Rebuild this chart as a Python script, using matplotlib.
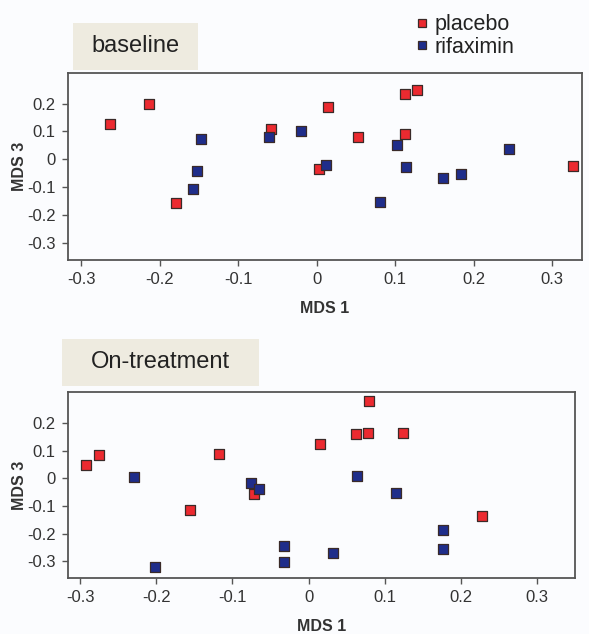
import matplotlib
matplotlib.use("Agg")
import matplotlib.pyplot as plt
from matplotlib.patches import Rectangle

plt.rcParams['font.family'] = ['Liberation Sans', 'DejaVu Sans']

# baseline (MDS 1, MDS 3)
base_placebo_x = [-0.263, -0.214, -0.179, -0.058, 0.014, 0.113, 0.128, 0.052, 0.113, 0.003, 0.326]
base_placebo_y = [0.126, 0.199, -0.156, 0.110, 0.189, 0.235, 0.250, 0.080, 0.091, -0.035, -0.023]
base_rifax_x = [-0.147, -0.153, -0.158, -0.061, -0.020, 0.012, 0.102, 0.114, 0.161, 0.184, 0.245, 0.081]
base_rifax_y = [0.072, -0.041, -0.108, 0.080, 0.101, -0.022, 0.050, -0.028, -0.067, -0.052, 0.036, -0.152]

# on-treatment
trt_placebo_x = [-0.293, -0.275, -0.118, -0.156, -0.072, 0.079, 0.015, 0.062, 0.078, 0.124, 0.228]
trt_placebo_y = [0.049, 0.083, 0.087, -0.113, -0.055, 0.280, 0.126, 0.160, 0.163, 0.166, -0.138]
trt_rifax_x = [-0.229, -0.076, -0.065, -0.202, -0.032, -0.032, 0.064, 0.115, 0.177, 0.177, 0.032]
trt_rifax_y = [0.006, -0.018, -0.037, -0.322, -0.244, -0.303, 0.007, -0.052, -0.186, -0.257, -0.270]

xticks = [-0.3, -0.2, -0.1, 0, 0.1, 0.2, 0.3]
yticks = [-0.3, -0.2, -0.1, 0, 0.1, 0.2]
tick_fmt = lambda v: '0' if v == 0 else '{:g}'.format(v)

RED = '#ec2a30'
BLUE = '#1f2d8a'
EDGE = '#3a2a28'
BG = '#fbfcfe'
W, H = 589, 634

fig = plt.figure(figsize=(W / 100, H / 100), dpi=100, facecolor=BG)


def px_axes(left, top, right, bottom):
    return fig.add_axes([left / W, 1 - bottom / H, (right - left) / W, (bottom - top) / H])


def style(ax, xlim, ylim, width_px):
    ax.set_facecolor(BG)
    ax.set_xlim(*xlim)
    ax.set_ylim(*ylim)
    ax.set_xticks(xticks)
    ax.set_xticklabels([tick_fmt(v) for v in xticks])
    ax.set_yticks(yticks)
    ax.set_yticklabels([tick_fmt(v) for v in yticks])
    for s in ax.spines.values():
        s.set_color('#555555')
        s.set_linewidth(1.3)
    ax.tick_params(direction='out', length=4, width=1, color='#555555',
                   labelsize=12, labelcolor='#333333', pad=5)
    ax.set_xlabel('MDS 1', fontsize=11.5, fontweight='bold', color='#333333', labelpad=10)
    ax.set_ylabel('MDS 3', fontsize=11.5, fontweight='bold', color='#333333')
    ax.yaxis.set_label_coords((27 - 68) / width_px, 0.5)


def pts(ax, x, y, c):
    ax.scatter(x, y, s=48, marker='s', c=c, edgecolors=EDGE, linewidths=0.9, zorder=3)


ax1 = px_axes(68, 73, 582, 260)
style(ax1, (-0.317, 0.338), (-0.362, 0.31), 514)
pts(ax1, base_placebo_x, base_placebo_y, RED)
pts(ax1, base_rifax_x, base_rifax_y, BLUE)

ax2 = px_axes(68, 392, 575, 578)
style(ax2, (-0.316, 0.35), (-0.361, 0.313), 507)
pts(ax2, trt_placebo_x, trt_placebo_y, RED)
pts(ax2, trt_rifax_x, trt_rifax_y, BLUE)


def label_box(x0, y0, x1, y1, tx, text):
    fig.add_artist(Rectangle((x0 / W, 1 - y1 / H), (x1 - x0) / W, (y1 - y0) / H,
                             transform=fig.transFigure, facecolor='#eeebe0', edgecolor='none'))
    fig.text(tx / W, 1 - (y0 + y1) / 2 / H, text, fontsize=17, color='#222222',
             va='center', ha='left')


label_box(73, 23, 198, 70, 91, 'baseline')
label_box(62, 339, 259, 386, 91, 'On-treatment')

# legend
h1 = plt.Line2D([], [], marker='s', ls='', ms=6, mfc=RED, mec=EDGE, mew=0.9)
h2 = plt.Line2D([], [], marker='s', ls='', ms=6, mfc=BLUE, mec=EDGE, mew=0.9)
fig.legend([h1, h2], ['placebo', 'rifaximin'], loc='upper left',
           bbox_to_anchor=(399 / W, 1 + 1 / H), frameon=False,
           prop={'size': 15.5},
           handlelength=0.7, handletextpad=0.25, labelspacing=0.08, borderpad=0.2,
           labelcolor='#222222')

fig.savefig('out.png', dpi=100, facecolor=BG)
